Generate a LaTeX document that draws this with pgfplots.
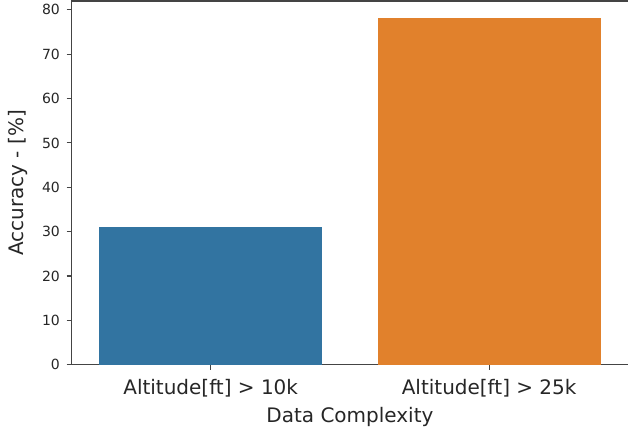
\documentclass[border=0pt]{standalone}
\usepackage{pgfplots}
\pgfplotsset{compat=1.18}
\usepackage{fontspec}
\setmainfont{DejaVu Sans}
\definecolor{sbblue}{HTML}{3274A1}
\definecolor{sborange}{HTML}{E1812C}
\definecolor{txt}{HTML}{262626}
\definecolor{spine}{HTML}{444444}
\begin{document}
\begin{tikzpicture}
% 1 px of the reference = 0.75pt
\begin{axis}[
  name=ax,
  scale only axis,
  width=418pt, height=273pt,
  xmin=-0.5, xmax=1.5, ymin=0, ymax=82,
  axis x line*=bottom, axis y line*=left,
  axis line style={spine, line width=0.9pt},
  xtick={0,1},
  xticklabels={Altitude[ft] > 10k, Altitude[ft] > 25k},
  ytick={0,10,...,80},
  tick align=outside, tick pos=left,
  major tick length=3.7pt,
  tick style={spine, line width=0.8pt},
  x tick label style={font=\fontsize{15}{18}\selectfont, text=txt, yshift=-3.5pt},
  y tick label style={font=\fontsize{10.5}{12}\selectfont, text=txt, xshift=-1.5pt},
  /pgf/number format/assume math mode=true,
  xlabel={Data Complexity}, ylabel={Accuracy - [\%]},
  label style={font=\fontsize{15}{18}\selectfont, text=txt},
  xlabel style={yshift=-1pt},
  ylabel style={yshift=4pt},
  ybar, bar width=0.8, bar shift=0pt,
  clip=false,
]
\addplot[draw=none, fill=sbblue] coordinates {(0,31.1)};
\addplot[draw=none, fill=sborange] coordinates {(1,78.2)};
\draw[spine, line width=0.9pt] (rel axis cs:0,1) -- (rel axis cs:1,1);
\end{axis}
\path ([xshift=-53.625pt,yshift=-51.75pt]ax.south west) rectangle ([yshift=0.75pt]ax.north east);
\end{tikzpicture}
\end{document}
